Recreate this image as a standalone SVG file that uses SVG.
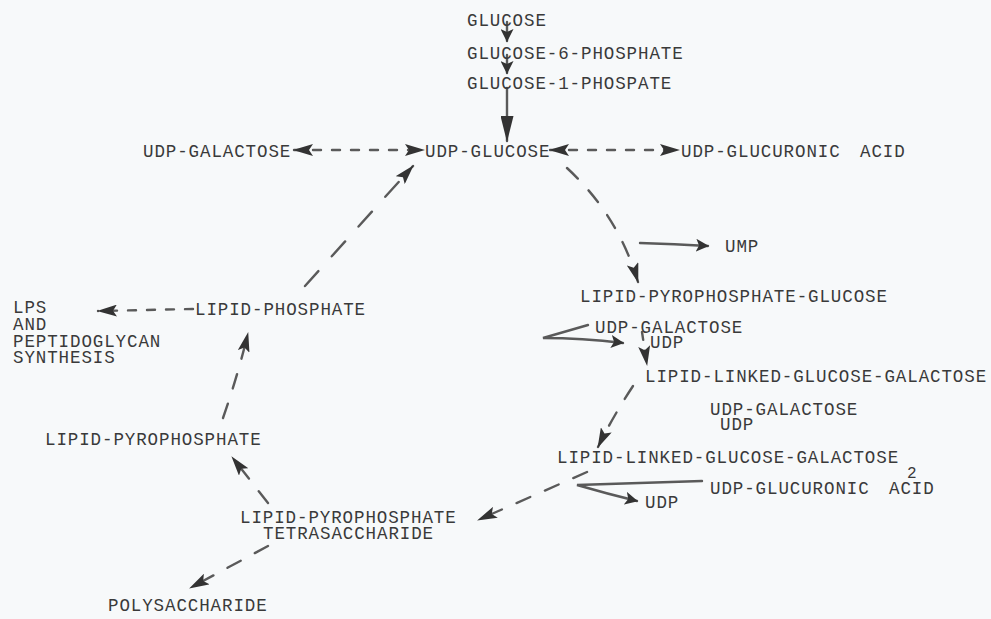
<svg xmlns="http://www.w3.org/2000/svg" width="991" height="619" viewBox="0 0 991 619">
<style>
text{font-family:"Liberation Mono","Courier New",monospace;font-size:17.5px;letter-spacing:0.9px;fill:#3a3a3a}
.sub{font-size:16px}
.wide{word-spacing:8px}
.c{fill:none;stroke:#5a5a5a;stroke-width:2.4;stroke-linecap:round}
.d1{stroke-dasharray:8 11}
.d2{stroke-dasharray:15 16}
.d3{stroke-dasharray:20 20}
</style>
<defs>
<marker id="ah" viewBox="0 0 20 12" markerWidth="20" markerHeight="12" refX="19" refY="6" orient="auto-start-reverse" markerUnits="userSpaceOnUse">
<path d="M0,0 L20,6 L0,12 L4,6 Z" fill="#333"/>
</marker>
<marker id="ahs" viewBox="0 0 13 13" markerWidth="13" markerHeight="13" refX="12" refY="6.5" orient="auto" markerUnits="userSpaceOnUse">
<path d="M0,0 L13,6.5 L0,13 L3,6.5 Z" fill="#333"/>
</marker>
<marker id="ahl" viewBox="0 0 26 13" markerWidth="26" markerHeight="13" refX="25" refY="6.5" orient="auto" markerUnits="userSpaceOnUse">
<path d="M0,0 L26,6.5 L0,13 Z" fill="#333"/>
</marker>
</defs>
<rect width="991" height="619" fill="#f7f9fa"/>
<g id="connectors">
<path class="c" d="M507,22 L507,41" marker-end="url(#ahs)"/>
<path class="c" d="M507,55 L507,73" marker-end="url(#ahs)"/>
<path class="c" d="M507,88 L507,141" marker-end="url(#ahl)"/>
<path class="c d1" d="M294,150 L424,150" marker-start="url(#ah)" marker-end="url(#ah)"/>
<path class="c d1" d="M550,150 L679,150" marker-start="url(#ah)" marker-end="url(#ah)"/>
<path class="c d2" d="M567,168 Q618,215 638,282" marker-end="url(#ah)"/>
<path class="c" d="M640,243 Q675,244 708,246" marker-end="url(#ahs)"/>
<path class="c" d="M588,325 L543,338 Q582,338 623,343" marker-end="url(#ahs)"/>
<path class="c d1" d="M642,332 L647,365" marker-end="url(#ah)"/>
<path class="c d2" d="M633,386 Q612,418 598,447" marker-end="url(#ah)"/>
<path class="c" d="M702,481 L577,485 Q608,494 637,501" marker-end="url(#ahs)"/>
<path class="c d2" d="M587,472 L478,520" marker-end="url(#ah)"/>
<path class="c d2" d="M268,503 L232,457" marker-end="url(#ah)"/>
<path class="c d2" d="M268,546 L190,588" marker-end="url(#ah)"/>
<path class="c d2" d="M223,418 Q238,375 248,333" marker-end="url(#ah)"/>
<path class="c d1" d="M193,309 L98,311" marker-end="url(#ah)"/>
<path class="c d3" d="M305,286 L413,166" marker-end="url(#ah)"/>
</g>
<g id="glucose"><text x="467" y="26">GLUCOSE</text></g>
<g id="glucose-6-phosphate"><text x="467" y="59">GLUCOSE-6-PHOSPHATE</text></g>
<g id="glucose-1-phospate"><text x="467" y="89">GLUCOSE-1-PHOSPATE</text></g>
<g id="udp-galactose-top"><text x="143" y="157">UDP-GALACTOSE</text></g>
<g id="udp-glucose"><text x="425" y="157">UDP-GLUCOSE</text></g>
<g id="udp-glucuronic-top"><text class="wide" x="681" y="157">UDP-GLUCURONIC ACID</text></g>
<g id="ump"><text x="725" y="252">UMP</text></g>
<g id="lipid-pp-glucose"><text x="580" y="302">LIPID-PYROPHOSPHATE-GLUCOSE</text></g>
<g id="udp-galactose-1"><text x="595" y="333">UDP-GALACTOSE</text><text x="650" y="348">UDP</text></g>
<g id="lipid-linked-1"><text x="645" y="382">LIPID-LINKED-GLUCOSE-GALACTOSE</text></g>
<g id="udp-galactose-2"><text x="710" y="415">UDP-GALACTOSE</text><text x="720" y="430">UDP</text></g>
<g id="lipid-linked-2"><text x="557" y="463">LIPID-LINKED-GLUCOSE-GALACTOSE</text><text class="sub" x="907" y="478">2</text></g>
<g id="udp-glucuronic-2"><text class="wide" x="710" y="494">UDP-GLUCURONIC ACID</text></g>
<g id="udp-3"><text x="645" y="508">UDP</text></g>
<g id="tetrasaccharide"><text x="240" y="523">LIPID-PYROPHOSPHATE</text><text x="263" y="539">TETRASACCHARIDE</text></g>
<g id="polysaccharide"><text x="108" y="611">POLYSACCHARIDE</text></g>
<g id="lipid-pyrophosphate"><text x="45" y="445">LIPID-PYROPHOSPHATE</text></g>
<g id="lipid-phosphate"><text x="195" y="315">LIPID-PHOSPHATE</text></g>
<g id="lps"><text x="13" y="313">LPS</text><text x="13" y="330">AND</text><text x="13" y="347">PEPTIDOGLYCAN</text><text x="13" y="363">SYNTHESIS</text></g>
</svg>
